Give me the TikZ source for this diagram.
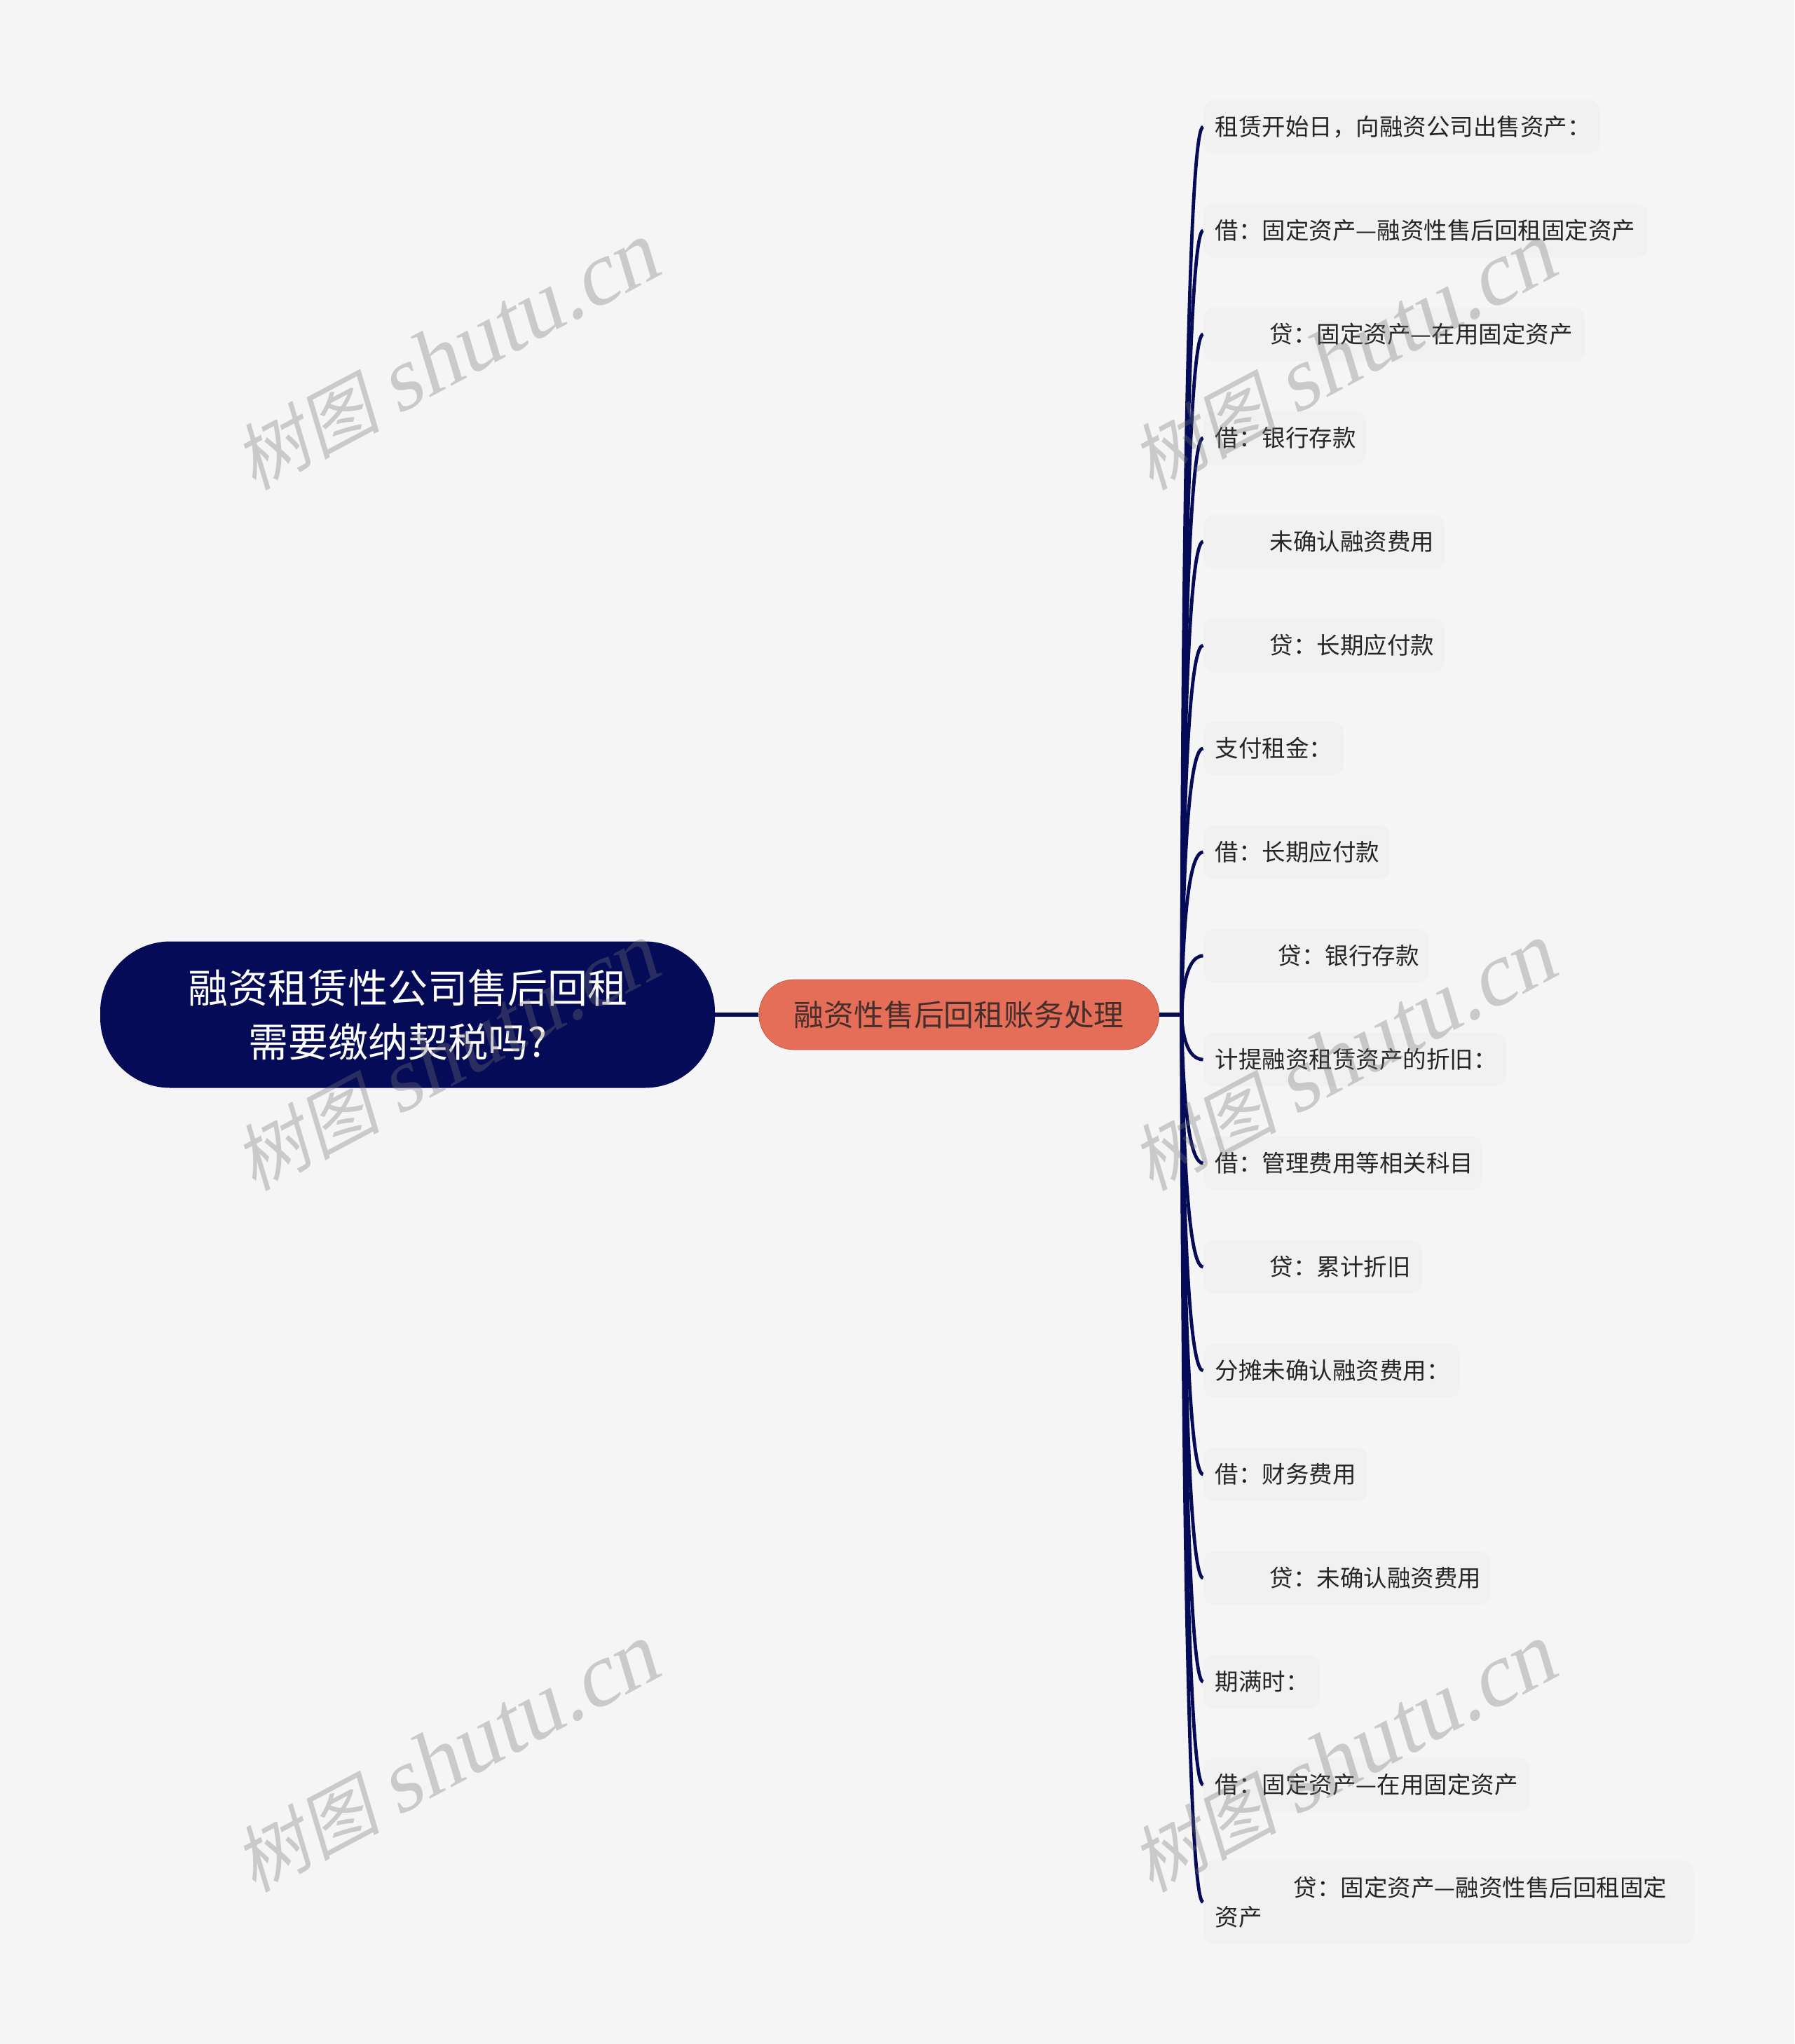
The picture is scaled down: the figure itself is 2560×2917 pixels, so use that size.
\documentclass[tikz,border=0pt]{standalone}
\usepackage{fontspec}
\setmainfont{Noto Sans CJK SC}
\newfontfamily\markcjk[FakeSlant=0.2]{Noto Sans CJK SC}
\newfontfamily\markfont[FakeSlant=0.2]{Liberation Serif}
\newcommand{\stamptext}{{\fontsize{52}{70}\markcjk 树图}\hspace{-4pt} shutu.cn}
\definecolor{paper}{HTML}{F5F5F6}
\definecolor{navy}{HTML}{060B58}
\definecolor{coral}{HTML}{E56E58}
\definecolor{leafbg}{HTML}{F1F1F2}
\definecolor{midtext}{HTML}{452E2B}
\tikzset{
  rootbox/.style={fill=navy, text=white, rounded corners=50pt, minimum width=438.5pt, minimum height=104.5pt, align=center, font=\fontsize{28.5}{38.5}\selectfont},
  midbox/.style={fill=coral, draw=coral!85!black, line width=0.4pt, text=midtext, rounded corners=25pt, minimum width=285.5pt, minimum height=50pt, font=\fontsize{21.4}{26}\selectfont},
  leaf/.style={fill=leafbg, text=black!85, rounded corners=7.5pt, anchor=west, align=left, inner xsep=8.5pt, inner ysep=0pt, minimum height=38pt, font=\fontsize{16.75}{21}\selectfont},
  link/.style={navy, line width=2.6pt},
  branch/.style={navy, line width=2.4pt},
  curve/.style={to path={.. controls (\tikztostart) and (\tikztostart |- \tikztotarget) .. (\tikztotarget)}},
  stamp/.style={text=black!55, opacity=0.33, rotate=28, inner sep=0pt, font=\fontsize{64}{70}\markfont}
}
\begin{document}
\begin{tikzpicture}[x=0.5pt,y=-0.5pt]
\useasboundingbox[fill=paper] (0,0) rectangle (2560,2917);

\node[rootbox] (root) at (581.5,1448) {融资租赁性公司售后回租\\需要缴纳契税吗?\hspace*{14pt}};
\node[midbox] (mid) at (1368.3,1448) {融资性售后回租账务处理};
\coordinate (hub) at (1686,1448);

\node[leaf,text width=266pt] (l1) at (1716.5,181) {租赁开始日，向融资公司出售资产：};
\node[leaf,text width=300pt] (l2) at (1716.5,329) {借：固定资产—融资性售后回租固定资产};
\node[leaf,text width=255pt] (l3) at (1716.5,477) {\hspace*{39pt}贷：固定资产—在用固定资产};
\node[leaf,text width=99pt] (l4) at (1716.5,625) {借：银行存款};
\node[leaf,text width=155pt] (l5) at (1716.5,773) {\hspace*{39pt}未确认融资费用};
\node[leaf,text width=155pt] (l6) at (1716.5,921) {\hspace*{39pt}贷：长期应付款};
\node[leaf,text width=83pt] (l7) at (1716.5,1068) {支付租金：};
\node[leaf,text width=116pt] (l8) at (1716.5,1216) {借：长期应付款};
\node[leaf,text width=144pt] (l9) at (1716.5,1364) {\hspace*{45pt}贷：银行存款};
\node[leaf,text width=199pt] (l10) at (1716.5,1512) {计提融资租赁资产的折旧：};
\node[leaf,text width=182pt] (l11) at (1716.5,1660) {借：管理费用等相关科目};
\node[leaf,text width=139pt] (l12) at (1716.5,1808) {\hspace*{39pt}贷：累计折旧};
\node[leaf,text width=166pt] (l13) at (1716.5,1956) {分摊未确认融资费用：};
\node[leaf,text width=100pt] (l14) at (1716.5,2104) {借：财务费用};
\node[leaf,text width=188pt] (l15) at (1716.5,2252) {\hspace*{39pt}贷：未确认融资费用};
\node[leaf,text width=66pt] (l16) at (1716.5,2400) {期满时：};
\node[leaf,text width=216pt] (l17) at (1716.5,2547) {借：固定资产—在用固定资产};
\node[leaf,text width=333pt,minimum height=59.5pt] (l18) at (1716.5,2714.5) {\hspace*{56pt}贷：固定资产—融资性售后回租固定\\资产};

\draw[link] (root.east) -- (mid.west);
\draw[link] (mid.east) -- (hub);
\path[branch] (hub) edge[curve] (l1.west);
\path[branch] (hub) edge[curve] (l2.west);
\path[branch] (hub) edge[curve] (l3.west);
\path[branch] (hub) edge[curve] (l4.west);
\path[branch] (hub) edge[curve] (l5.west);
\path[branch] (hub) edge[curve] (l6.west);
\path[branch] (hub) edge[curve] (l7.west);
\path[branch] (hub) edge[curve] (l8.west);
\path[branch] (hub) edge[curve] (l9.west);
\path[branch] (hub) edge[curve] (l10.west);
\path[branch] (hub) edge[curve] (l11.west);
\path[branch] (hub) edge[curve] (l12.west);
\path[branch] (hub) edge[curve] (l13.west);
\path[branch] (hub) edge[curve] (l14.west);
\path[branch] (hub) edge[curve] (l15.west);
\path[branch] (hub) edge[curve] (l16.west);
\path[branch] (hub) edge[curve] (l17.west);
\path[branch] (hub) edge[curve] (l18.west);

\node[stamp] (m1) at (636,510) {\stamptext};
\node[stamp] (m2) at (1916,510) {\stamptext};
\node[stamp] (m3) at (636,1510) {\stamptext};
\node[stamp] (m4) at (1916,1510) {\stamptext};
\node[stamp] (m5) at (636,2510) {\stamptext};
\node[stamp] (m6) at (1916,2510) {\stamptext};
\end{tikzpicture}
\end{document}
